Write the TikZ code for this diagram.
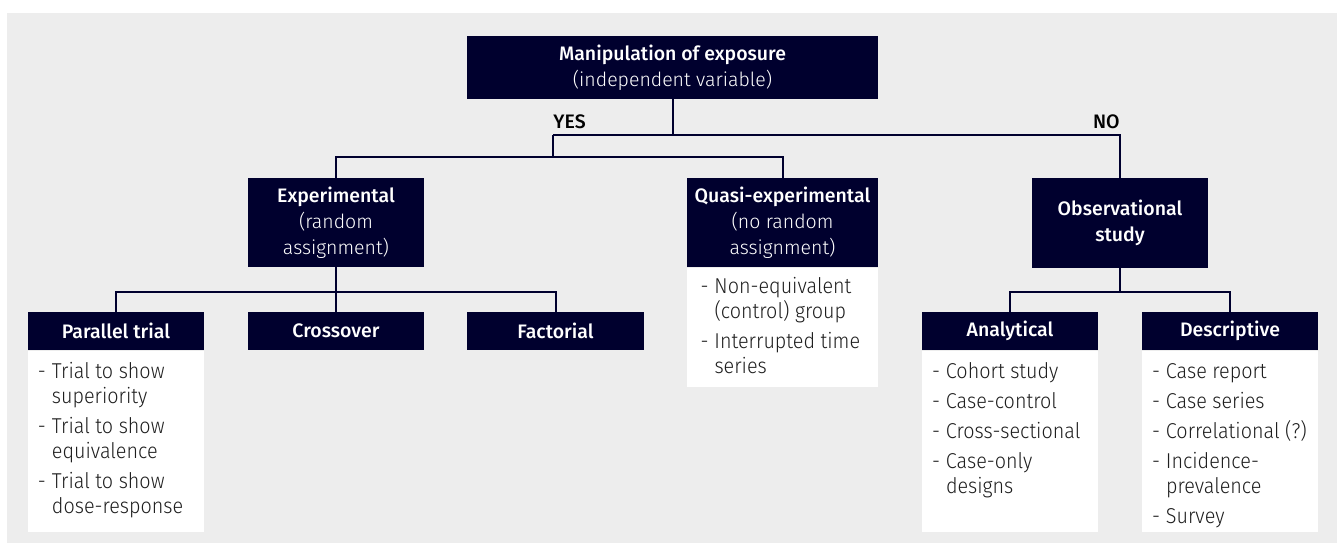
\documentclass[tikz,border=0pt]{standalone}
\usepackage{fontspec}
\setmainfont{Fira Sans}
\newfontfamily\headfont{Fira Sans Medium}
\newfontfamily\lightfont{Fira Sans Light}
\newfontfamily\listfont[FakeStretch=0.92]{Fira Sans Light}

\definecolor{navy}{HTML}{00002E}
\definecolor{panel}{HTML}{EDEDED}
\definecolor{ink}{HTML}{1E1E1E}

% one bullet line of a list box, with a hanging indent after the dash
\newcommand{\listitem}[1]{\hangindent=7pt\hangafter=1\noindent\makebox[7pt][l]{-}#1\par\vspace{2.5pt}}
% a list box body: width, height, first baseline, items
\newcommand{\listbody}[4]{\parbox[t][#2][t]{#1}{\parindent=0pt\fontsize{10.75pt}{12.5pt}\selectfont\listfont\color{ink}\leavevmode\rule{0pt}{#3}\ignorespaces#4}}

\tikzset{
  head/.style={fill=navy, text=white, inner sep=0pt, align=center,
    font=\fontsize{9.75pt}{13pt}\selectfont\headfont},
  listbox/.style={fill=white, inner sep=0pt, anchor=north},
  link/.style={draw=navy, line width=1pt, line join=miter},
  answer/.style={inner sep=0pt, text=black, font=\fontsize{9.75pt}{12pt}\selectfont\headfont},
}

\begin{document}
\begin{tikzpicture}[x=0.5pt, y=-0.5pt]
  \useasboundingbox (0,0) rectangle (1340,543);
  \fill[panel] (7,13) rectangle (1337,543);

  % decision at the top
  \node[head, minimum width=205.5pt, minimum height=31.5pt] (top) at (672.5,67.5)
    {Manipulation of exposure\\{\lightfont (independent variable)}};

  % study families
  \node[head, minimum width=88pt, minimum height=44.5pt] (exp) at (336,222.5)
    {Experimental\\{\lightfont (random}\\{\lightfont assignment)}};
  \node[head, minimum width=95.5pt, minimum height=44.5pt] (quasi) at (782.5,222.5)
    {Quasi-experimental\\{\lightfont (no random}\\{\lightfont assignment)}};
  \node[head, minimum width=88pt, minimum height=45pt] (obs) at (1120,223)
    {Observational\\study};

  % designs
  \node[head, minimum width=88pt, minimum height=19pt] (par) at (116,331) {Parallel trial};
  \node[head, minimum width=88pt, minimum height=19pt] (cross) at (336,331) {Crossover};
  \node[head, minimum width=88.5pt, minimum height=19pt] (fac) at (555.5,331) {Factorial};
  \node[head, minimum width=88pt, minimum height=19pt] (ana) at (1010,331) {Analytical};
  \node[head, minimum width=88pt, minimum height=19pt] (desc) at (1230,331) {Descriptive};

  % lists under the headers
  \node[listbox, minimum width=88pt] (parlist) at (par.south)
    {\listbody{78pt}{90.5pt}{14pt}{%
      \listitem{Trial to show\\superiority}%
      \listitem{Trial to show\\equivalence}%
      \listitem{Trial to show\\dose-response}}};
  \node[listbox, minimum width=95.5pt] (quasilist) at (quasi.south)
    {\listbody{82pt}{59.5pt}{13pt}{%
      \listitem{Non-equivalent\\(control) group}%
      \listitem{Interrupted time\\series}}};
  \node[listbox, minimum width=88pt] (analist) at (ana.south)
    {\listbody{78pt}{90.5pt}{14pt}{%
      \listitem{Cohort study}%
      \listitem{Case-control}%
      \listitem{Cross-sectional}%
      \listitem{Case-only\\designs}}};
  \node[listbox, minimum width=88pt] (desclist) at (desc.south)
    {\listbody{78pt}{90.5pt}{14pt}{%
      \listitem{Case report}%
      \listitem{Case series}%
      \listitem{Correlational (?)}%
      \listitem{Incidence-\\prevalence}%
      \listitem{Survey}}};

  % branching connectors
  \coordinate (j1) at (553,135);
  \coordinate (j2) at (553,157);
  \coordinate (j3) at (336,292);
  \coordinate (j4) at (1120,292);

  \draw[link] (top.south) -- (top.south |- j1);
  \draw[link] (j1) -| (obs.north);
  \draw[link] (j1) -- (j2);
  \draw[link] (exp.north) |- (j2) -| (quasi.north);

  \draw[link] (exp.south) -- (j3);
  \draw[link] (par.north) |- (j3) -| (fac.north);
  \draw[link] (j3) -- (cross.north);

  \draw[link] (obs.south) -- (j4);
  \draw[link] (ana.north) |- (j4) -| (desc.north);

  % branch answers
  \node[answer, anchor=base west] (yes) at ([yshift=3.5pt]j1) {YES};
  \node[answer, anchor=base east] (no) at ([yshift=3.5pt]obs.north |- j1) {NO};
\end{tikzpicture}
\end{document}
